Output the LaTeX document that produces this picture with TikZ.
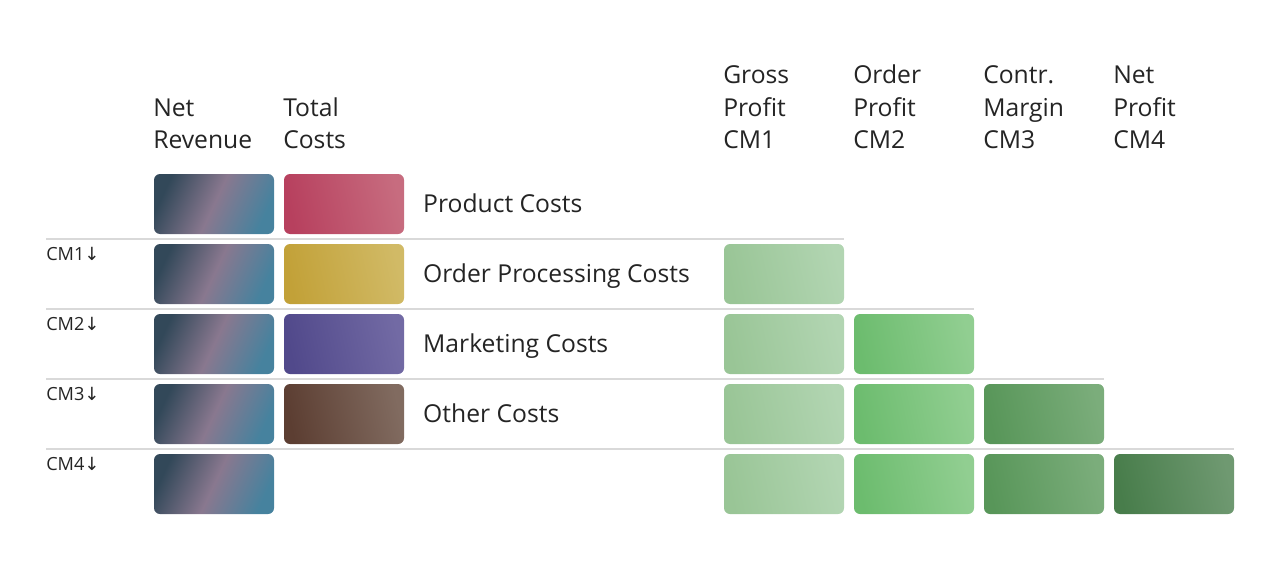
\documentclass[tikz,border=0pt]{standalone}
\usepackage{fontspec}
\setmainfont{Open Sans}
\newfontfamily\arrowfont{DejaVu Sans}
\usepackage{xcolor}
\usepackage{tikz}
\usetikzlibrary{positioning}
\definecolor{textgray}{RGB}{36, 36, 36}
\definecolor{rulegray}{RGB}{217, 217, 217}
\definecolor{netdark}{RGB}{50, 72, 89}
\definecolor{netmauve}{RGB}{137, 120, 143}
\definecolor{netteal}{RGB}{70, 130, 158}
\definecolor{productdark}{RGB}{183, 64, 94}
\definecolor{productlight}{RGB}{199, 108, 127}
\definecolor{orderdark}{RGB}{194, 161, 56}
\definecolor{orderlight}{RGB}{209, 186, 102}
\definecolor{marketdark}{RGB}{81, 73, 139}
\definecolor{marketlight}{RGB}{114, 106, 164}
\definecolor{otherdark}{RGB}{92, 62, 50}
\definecolor{otherlight}{RGB}{129, 107, 96}
\definecolor{cmonedark}{RGB}{153, 197, 150}
\definecolor{cmonelight}{RGB}{178, 213, 178}
\definecolor{cmtwodark}{RGB}{108, 188, 110}
\definecolor{cmtwolight}{RGB}{145, 206, 145}
\definecolor{cmthreedark}{RGB}{88, 150, 89}
\definecolor{cmthreelight}{RGB}{123, 173, 123}
\definecolor{cmfourdark}{RGB}{72, 125, 75}
\definecolor{cmfourlight}{RGB}{111, 153, 113}

% left-to-right shadings for the bars
\pgfdeclarehorizontalshading{netrevshade}{100bp}{color(0bp)=(netdark); color(25bp)=(netdark);
  color(50bp)=(netmauve); color(75bp)=(netteal); color(100bp)=(netteal)}
\newcommand{\barshade}[3]{\pgfdeclarehorizontalshading{#1}{100bp}{color(0bp)=(#2);
  color(25bp)=(#2); color(75bp)=(#3); color(100bp)=(#3)}}
\barshade{productshade}{productdark}{productlight}
\barshade{ordershade}{orderdark}{orderlight}
\barshade{marketshade}{marketdark}{marketlight}
\barshade{othershade}{otherdark}{otherlight}
\barshade{cmoneshade}{cmonedark}{cmonelight}
\barshade{cmtwoshade}{cmtwodark}{cmtwolight}
\barshade{cmthreeshade}{cmthreedark}{cmthreelight}
\barshade{cmfourshade}{cmfourdark}{cmfourlight}

\begin{document}
\begin{tikzpicture}[
    x=0.75pt, y=-0.75pt,
    node distance=7.5pt,
    every node/.style={text=textgray},
    bar/.style={rounded corners=4.5pt, minimum width=90pt, minimum height=45pt,
                inner sep=0pt, outer sep=0pt, anchor=north west, shade, shading angle=12},
    netrev/.style={bar, shading=netrevshade, shading angle=-25},
    product/.style={bar, shading=productshade},
    orderproc/.style={bar, shading=ordershade},
    marketing/.style={bar, shading=marketshade},
    other/.style={bar, shading=othershade},
    cmone/.style={bar, shading=cmoneshade},
    cmtwo/.style={bar, shading=cmtwoshade},
    cmthree/.style={bar, shading=cmthreeshade},
    cmfour/.style={bar, shading=cmfourshade},
    header/.style={font=\fontsize{18.5}{24}\selectfont, align=left, anchor=base west,
                   inner sep=0pt},
    costlabel/.style={font=\fontsize{18.5}{24}\selectfont, inner sep=0pt,
                      text height=13.2pt, text depth=0pt},
    rowlabel/.style={font=\fontsize{13.6}{16}\selectfont, anchor=base west, inner sep=0pt},
    divider/.style={draw=rulegray, line width=1.5pt}
]
    \useasboundingbox (0,0) rectangle (1280,574);

    % column headers
    \node[header] (hnet) at (153,148) {Net\\Revenue};
    \node[header] (htotal) at (283,148) {Total\\Costs};
    \node[header] (hcmone) at (723,148) {Gross\\Profit\\CM1};
    \node[header] (hcmtwo) at (853,148) {Order\\Profit\\CM2};
    \node[header] (hcmthree) at (983,148) {Contr.\\Margin\\CM3};
    \node[header] (hcmfour) at (1113,148) {Net\\Profit\\CM4};

    % net revenue column
    \node[netrev] (nr1) at (154,174) {};
    \node[netrev, below=of nr1] (nr2) {};
    \node[netrev, below=of nr2] (nr3) {};
    \node[netrev, below=of nr3] (nr4) {};
    \node[netrev, below=of nr4] (nr5) {};

    % cost bars and their labels
    \node[product, right=of nr1] (tc1) {};
    \node[orderproc, right=of nr2] (tc2) {};
    \node[marketing, right=of nr3] (tc3) {};
    \node[other, right=of nr4] (tc4) {};
    \node[costlabel, right=14.2pt of tc1] (lproduct) {Product Costs};
    \node[costlabel, right=14.2pt of tc2] (lorder) {Order Processing Costs};
    \node[costlabel, right=14.2pt of tc3] (lmarketing) {Marketing Costs};
    \node[costlabel, right=14.2pt of tc4] (lother) {Other Costs};

    % contribution margins
    \node[cmone] (g21) at (724,244) {};
    \node[cmone, below=of g21] (g31) {};
    \node[cmtwo, right=of g31] (g32) {};
    \node[cmone, below=of g31] (g41) {};
    \node[cmtwo, right=of g41] (g42) {};
    \node[cmthree, right=of g42] (g43) {};
    \node[cmone, below=of g41] (g51) {};
    \node[cmtwo, right=of g51] (g52) {};
    \node[cmthree, right=of g52] (g53) {};
    \node[cmfour, right=of g53] (g54) {};

    % row dividers
    \draw[divider] (46,239) -- (844,239);
    \draw[divider] (46,309) -- (974,309);
    \draw[divider] (46,379) -- (1104,379);
    \draw[divider] (46,449) -- (1234,449);

    \node[rowlabel] (cm1) at (46,260) {CM1{\arrowfont ↓}};
    \node[rowlabel] (cm2) at (46,330) {CM2{\arrowfont ↓}};
    \node[rowlabel] (cm3) at (46,400) {CM3{\arrowfont ↓}};
    \node[rowlabel] (cm4) at (46,470) {CM4{\arrowfont ↓}};
\end{tikzpicture}
\end{document}
